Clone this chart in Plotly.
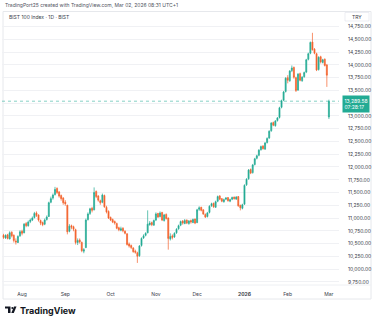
import pandas as pd
import plotly.graph_objects as go

# BIST 100 daily candles, 21 Jul 2025 - 02 Mar 2026 (TRY)
holidays = ["2025-10-29", "2026-01-01"]
dates = [d.strftime("%Y-%m-%d") for d in pd.bdate_range("2025-07-21", "2026-03-02")
         if d.strftime("%Y-%m-%d") not in holidays]

opens = [
    10660, 10610, 10670, 10590, 10720, 10660, 10550, 10520, 10650, 10740,
    10710, 10890, 10850, 10930, 10960, 11010, 11100, 11060, 10950, 10910,
    10880, 10970, 11030, 11310, 11390, 11460, 11580, 11510, 11440, 11390,
    11310, 11250, 10740, 10850, 10830, 10770, 10520, 10570, 10520, 10350,
    10420, 10970, 11090, 11190, 11160, 11520, 11430, 11340, 11310, 11440,
    11210, 11130, 11010, 10970, 10930, 10890, 10810, 10760, 10800, 10740,
    10690, 10490, 10460, 10410, 10350, 10320, 10260, 10460, 10610, 10660,
    10710, 10870, 10910, 10860, 10960, 11090, 11030, 11110, 10950, 11070,
    11000, 10590, 10650, 10630, 10710, 10790, 10860, 10940, 10890, 10960,
    10890, 10950, 10910, 10980, 10910, 11170, 11210, 11160, 11070, 11030,
    11110, 11240, 11290, 11210, 11330, 11430, 11380, 11320, 11370, 11400,
    11330, 11370, 11410, 11370, 11420, 11250, 11190, 11270, 11650, 11770,
    11950, 11890, 12050, 12170, 12230, 12340, 12410, 12350, 12480, 12570,
    12710, 12870, 12810, 12910, 12970, 13170, 13310, 13480, 13750, 13690,
    13890, 13950, 13750, 13510, 13830, 13690, 13770, 13860, 14110, 14230,
    14450, 14310, 14220, 13910, 14160, 14050, 14110, 14000, 12980,
]
highs = [
    10690, 10680, 10690, 10740, 10740, 10680, 10600, 10660, 10760, 10770,
    10900, 10920, 10950, 10990, 11030, 11120, 11130, 11070, 10970, 10930,
    10990, 11050, 11320, 11420, 11480, 11610, 11600, 11530, 11460, 11410,
    11350, 11260, 10880, 10870, 10850, 10790, 10600, 10600, 10540, 10410,
    10990, 11110, 11200, 11220, 11600, 11540, 11450, 11360, 11480, 11460,
    11240, 11150, 11030, 10990, 10950, 10910, 10830, 10830, 10820, 10760,
    10700, 10520, 10480, 10430, 10380, 10340, 10470, 10620, 10680, 10720,
    11150, 10940, 10930, 10970, 11110, 11100, 11130, 11120, 11080, 11090,
    11010, 10700, 10680, 10720, 10800, 10870, 10950, 10960, 10980, 10970,
    10960, 10970, 10990, 10990, 11180, 11230, 11220, 11170, 11090, 11120,
    11250, 11300, 11300, 11340, 11440, 11450, 11390, 11380, 11410, 11410,
    11380, 11420, 11420, 11430, 11430, 11260, 11280, 11660, 11780, 11960,
    11970, 12060, 12180, 12240, 12350, 12420, 12430, 12490, 12580, 12720,
    12880, 12890, 12920, 12980, 13180, 13320, 13490, 13760, 13800, 13900,
    13990, 13970, 13770, 13840, 13850, 13780, 13870, 14120, 14240, 14460,
    14630, 14330, 14240, 14170, 14180, 14120, 14130, 14020, 13320,
]
lows = [
    10590, 10590, 10580, 10580, 10620, 10520, 10480, 10510, 10630, 10660,
    10700, 10820, 10830, 10900, 10940, 10990, 11020, 10930, 10860, 10840,
    10860, 10950, 11020, 11290, 11360, 11440, 11470, 11400, 11340, 11260,
    11240, 10680, 10720, 10780, 10740, 10480, 10470, 10500, 10330, 10310,
    10410, 10950, 11060, 11110, 11150, 11390, 11320, 11260, 11290, 11200,
    11090, 10980, 10940, 10900, 10870, 10780, 10740, 10740, 10720, 10680,
    10460, 10420, 10390, 10320, 10300, 10120, 10240, 10440, 10590, 10640,
    10700, 10850, 10840, 10850, 10940, 11000, 11010, 10940, 10930, 10970,
    10380, 10560, 10580, 10610, 10690, 10770, 10840, 10870, 10880, 10880,
    10870, 10890, 10900, 10880, 10900, 11140, 11130, 11060, 11000, 11010,
    11090, 11220, 11200, 11200, 11310, 11350, 11310, 11300, 11350, 11320,
    11310, 11350, 11360, 11360, 11220, 11150, 11170, 11260, 11630, 11750,
    11860, 11870, 12030, 12150, 12210, 12320, 12340, 12340, 12460, 12550,
    12690, 12800, 12790, 12890, 12950, 13150, 13290, 13460, 13640, 13670,
    13860, 13730, 13470, 13490, 13680, 13670, 13750, 13840, 14090, 14210,
    14280, 14210, 13880, 13890, 14030, 14030, 13970, 13570, 12940,
]
closes = [
    10620, 10660, 10600, 10710, 10650, 10560, 10530, 10640, 10730, 10700,
    10880, 10850, 10920, 10960, 11000, 11090, 11050, 10960, 10900, 10870,
    10960, 11020, 11300, 11380, 11450, 11560, 11500, 11430, 11380, 11300,
    11280, 10730, 10840, 10820, 10780, 10520, 10560, 10530, 10360, 10380,
    10960, 11080, 11180, 11150, 11500, 11420, 11350, 11300, 11450, 11220,
    11120, 11000, 10960, 10920, 10900, 10800, 10770, 10790, 10750, 10700,
    10480, 10450, 10420, 10340, 10330, 10250, 10450, 10600, 10650, 10700,
    10880, 10900, 10870, 10950, 11080, 11020, 11100, 10960, 11060, 10990,
    10600, 10640, 10620, 10700, 10780, 10850, 10930, 10900, 10950, 10900,
    10940, 10920, 10970, 10900, 11160, 11200, 11150, 11080, 11020, 11100,
    11230, 11280, 11220, 11320, 11420, 11370, 11330, 11360, 11390, 11340,
    11360, 11400, 11380, 11410, 11240, 11200, 11260, 11640, 11760, 11940,
    11880, 12040, 12160, 12220, 12330, 12400, 12360, 12470, 12560, 12700,
    12860, 12820, 12900, 12960, 13160, 13300, 13470, 13740, 13700, 13880,
    13940, 13760, 13500, 13820, 13700, 13760, 13850, 14100, 14220, 14440,
    14300, 14230, 13900, 14150, 14060, 14100, 13990, 13800, 13289.58,
]

month_ticks = ["2025-08-01", "2025-09-01", "2025-10-01", "2025-11-03",
               "2025-12-01", "2026-01-02", "2026-02-02", "2026-03-02"]
month_labels = ["Aug", "Sep", "Oct", "Nov", "Dec", "<b>2026</b>", "Feb", "Mar"]

last = closes[-1]

price_ticks = list(range(9750, 15000, 250))
# the scale label nearest the last price sits under the price tag
price_labels = ["" if abs(v - last) < 125 else f"{v:,.2f}" for v in price_ticks]

UP = "#22AB94"
DOWN = "#F4622B"
TXT = "#3a3e4a"
FONT = "Inter, Noto Sans, sans-serif"

fig = go.Figure(go.Candlestick(
    x=dates, open=opens, high=highs, low=lows, close=closes,
    increasing=dict(line=dict(color=UP, width=0.7), fillcolor=UP),
    decreasing=dict(line=dict(color=DOWN, width=0.7), fillcolor=DOWN),
    whiskerwidth=0, hoverinfo="skip",
))

fig.update_layout(
    width=375, height=323,
    margin=dict(l=2, r=36, t=12, b=38),
    paper_bgcolor="white", plot_bgcolor="white",
    showlegend=False,
    font=dict(family=FONT, size=5, color=TXT),
    xaxis=dict(
        type="category", range=[-0.73, 162.9],
        tickmode="array", tickvals=month_ticks, ticktext=month_labels,
        showgrid=False, zeroline=False, showline=False, ticks="",
        ticklabelstandoff=5,
        tickfont=dict(size=5, color=TXT),
        rangeslider=dict(visible=False), fixedrange=True,
    ),
    yaxis=dict(
        side="right", range=[9687, 15038],
        tickmode="array", tickvals=price_ticks, ticktext=price_labels,
        showgrid=True, gridcolor="#F0F1F4", gridwidth=1,
        zeroline=False, showline=False, ticks="", ticklabelstandoff=8,
        tickfont=dict(size=5, color=TXT), fixedrange=True,
    ),
    shapes=[
        # panel frame
        dict(type="rect", xref="paper", yref="paper",
             x0=(3 - 2) / 337, x1=(371 - 2) / 337,
             y0=(285 - 299) / 273, y1=(285 - 11.5) / 273,
             line=dict(color="#E6E8EC", width=1), layer="below"),
        # time scale separator
        dict(type="line", xref="paper", yref="paper",
             x0=(3 - 2) / 337, x1=(371 - 2) / 337, y0=0, y1=0,
             line=dict(color="#EEF0F3", width=1)),
        # last price line
        dict(type="line", xref="paper", yref="y", x0=0, x1=1, y0=last, y1=last,
             line=dict(color="rgba(34,171,148,0.55)", width=1, dash="dot")),
        # TRY box
        dict(type="rect", xref="paper", yref="paper",
             x0=(345 - 2) / 337, x1=(369 - 2) / 337,
             y0=(285 - 21) / 273, y1=(285 - 12.5) / 273,
             line=dict(color="#E0E3EB", width=0.6), fillcolor="white"),
        # TradingView logo mark
        dict(type="path", xref="paper", yref="paper",
             path=("M {a},{b} L {c},{b} L {c},{d} L {e},{d} L {e},{f} L {a},{f} Z").format(
                 a=(5 - 2) / 337, c=(10.5 - 2) / 337, e=(8 - 2) / 337,
                 b=(285 - 306.5) / 273, d=(285 - 313) / 273, f=(285 - 308.5) / 273),
             fillcolor="#131722", line=dict(width=0)),
        dict(type="circle", xref="paper", yref="paper",
             x0=(11.3 - 2) / 337, x1=(13.3 - 2) / 337,
             y0=(285 - 309) / 273, y1=(285 - 307) / 273,
             fillcolor="#131722", line=dict(width=0)),
        dict(type="path", xref="paper", yref="paper",
             path=("M {a},{y1} L {b},{y1} L {c},{y0} L {d},{y0} Z").format(
                 a=(14 - 2) / 337, b=(16.5 - 2) / 337, c=(13.8 - 2) / 337, d=(11.3 - 2) / 337,
                 y1=(285 - 306.5) / 273, y0=(285 - 313) / 273),
             fillcolor="#131722", line=dict(width=0)),
    ],
    annotations=[
        dict(text="TradingPort25 created with TradingView.com, Mar 02, 2026 08:31 UTC+1",
             xref="paper", yref="paper", x=(3 - 2) / 337, y=(285 - 5) / 273,
             xanchor="left", yanchor="middle", showarrow=False,
             font=dict(size=5, color="#50535e")),
        dict(text="BIST 100 Index · 1D · BIST",
             xref="paper", yref="paper", x=(7 - 2) / 337, y=(285 - 17) / 273,
             xanchor="left", yanchor="middle", showarrow=False,
             font=dict(size=5, color=TXT)),
        dict(text="TRY", xref="paper", yref="paper", x=(357 - 2) / 337, y=(285 - 16.8) / 273,
             xanchor="center", yanchor="middle", showarrow=False,
             font=dict(size=5, color=TXT)),
        dict(text=f"{last:,.2f}<br>07:28:17", xref="paper", yref="y",
             x=(342 - 2) / 337, y=last, yshift=-3, xanchor="left", yanchor="middle",
             showarrow=False, bgcolor=UP, borderpad=1.5, align="left",
             font=dict(size=5, color="white")),
        dict(text="<b>TradingView</b>", xref="paper", yref="paper",
             x=(18 - 2) / 337, y=(285 - 310) / 273, xanchor="left", yanchor="middle",
             showarrow=False, font=dict(size=9, color="#131722")),
    ],
)

fig.write_html("out.html", config={"displayModeBar": False})
